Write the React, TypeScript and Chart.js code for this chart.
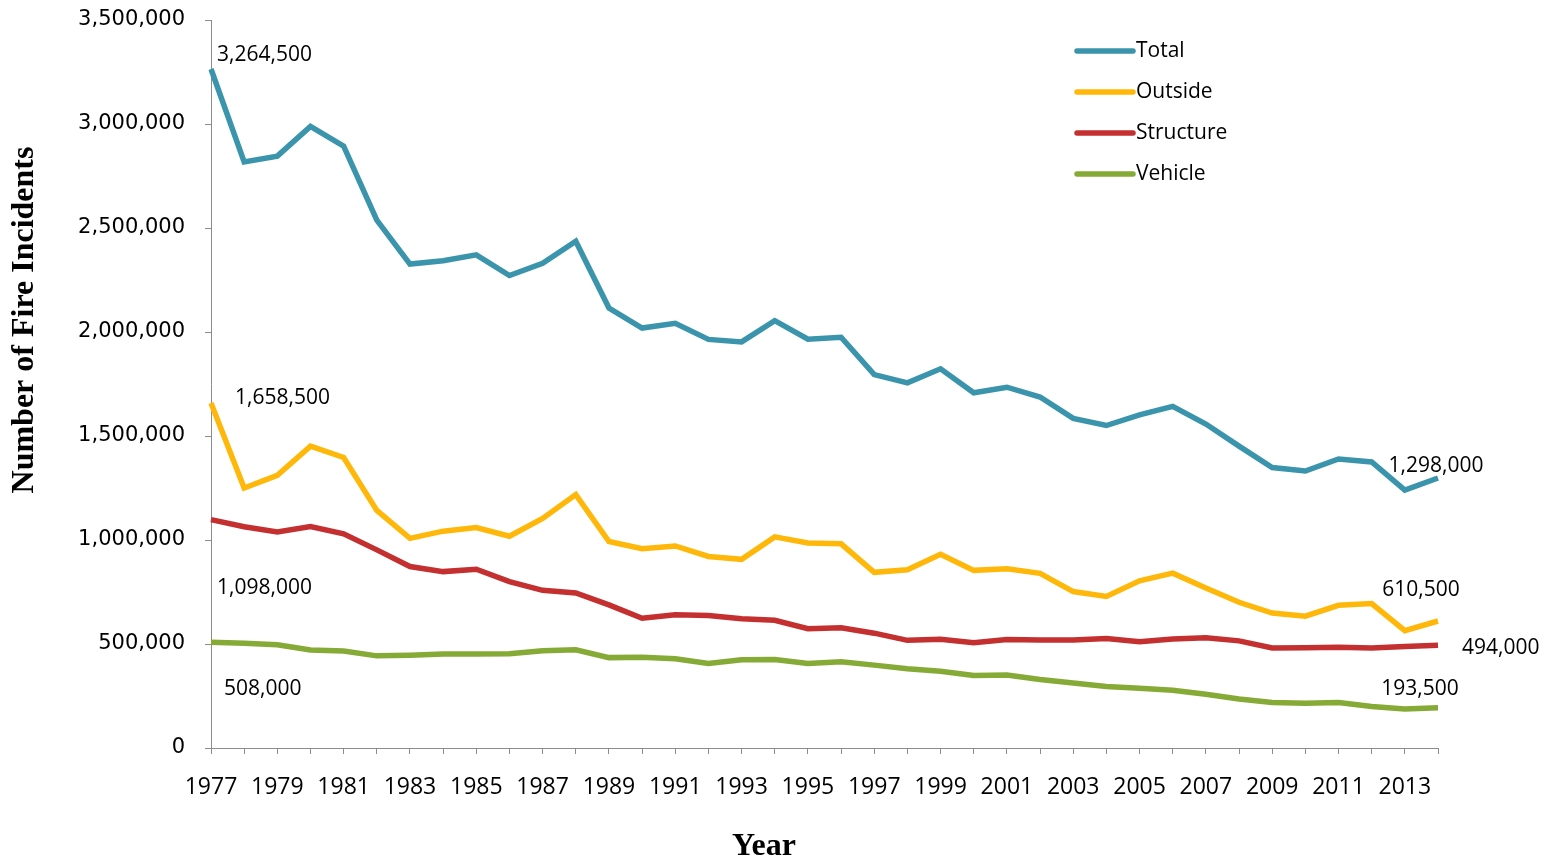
import React, { useEffect, useRef } from "react";
import { Chart, registerables } from "chart.js";

Chart.register(...registerables);

const years = [
  "1977", "1978", "1979", "1980", "1981", "1982", "1983", "1984", "1985", "1986",
  "1987", "1988", "1989", "1990", "1991", "1992", "1993", "1994", "1995", "1996",
  "1997", "1998", "1999", "2000", "2001", "2002", "2003", "2004", "2005", "2006",
  "2007", "2008", "2009", "2010", "2011", "2012", "2013", "2014",
];

const total = [
  3264500, 2817500, 2845500, 2988000, 2893500, 2538000, 2326500, 2343000, 2371000, 2271500,
  2330000, 2436500, 2115000, 2019000, 2041500, 1964500, 1952500, 2054500, 1965500, 1975000,
  1795000, 1755500, 1823000, 1708000, 1734500, 1687500, 1584500, 1550500, 1602000, 1642500,
  1557500, 1451500, 1348500, 1331500, 1389500, 1375000, 1240000, 1298000,
];

const outside = [
  1658500, 1250000, 1310500, 1451500, 1397000, 1142500, 1008000, 1042500, 1060000, 1018000,
  1104000, 1218500, 992500, 958500, 971500, 921000, 907000, 1015000, 985500, 981500,
  844500, 857000, 931500, 854000, 862000, 839500, 752000, 728500, 804000, 840500,
  769000, 700500, 649000, 634000, 686000, 694500, 564500, 610500,
];

const structure = [
  1098000, 1064000, 1038500, 1065000, 1030000, 952500, 872500, 848000, 859500, 800000,
  758000, 745500, 688000, 624000, 640500, 637500, 621500, 614000, 573500, 578500,
  552000, 517500, 523000, 505500, 521500, 519000, 519500, 526000, 511000, 524000,
  530500, 515000, 480500, 482000, 484500, 480500, 487500, 494000,
];

const vehicle = [
  508000, 503500, 496500, 471500, 466500, 443000, 446000, 452500, 451500, 453500,
  468000, 472500, 434500, 436500, 429500, 406000, 424000, 425500, 406500, 415000,
  398500, 381000, 368500, 348500, 351000, 329000, 313000, 296000, 287000, 278000,
  258000, 236000, 219000, 215500, 219000, 200000, 188000, 193500,
];

const seriesNames = ["Total", "Outside", "Structure", "Vehicle"];
const seriesColors = ["#3A94AB", "#FFB80A", "#C3302F", "#86AA36"];

const yTitle = "Number of Fire Incidents";
const xTitle = "Year";

const fmt = (v: number) => v.toLocaleString("en-US");

// label offsets per dataset: [first point, last point] => [dx, dy, align]
const labelOffsets: Array<Array<[number, number, CanvasTextAlign]>> = [
  [[6, -14, "left"], [-2, -12, "center"]],
  [[24, -5, "left"], [-17, -31, "center"]],
  [[6, 68, "left"], [24, 3, "left"]],
  [[13, 47, "left"], [-18, -19, "center"]],
];

const extrasPlugin = {
  id: "extras",
  afterDraw(chart: any) {
    const ctx = chart.ctx as CanvasRenderingContext2D;
    const ca = chart.chartArea;
    ctx.save();
    // data labels
    ctx.fillStyle = "#000";
    ctx.font = '21px "Open Sans"';
    ctx.textBaseline = "middle";
    chart.data.datasets.forEach((ds: any, i: number) => {
      const meta = chart.getDatasetMeta(i);
      const n = ds.data.length;
      [0, n - 1].forEach((idx, k) => {
        const pt = meta.data[idx];
        const [dx, dy, align] = labelOffsets[i][k];
        ctx.textAlign = align;
        ctx.fillText(fmt(ds.data[idx]), pt.x + dx, pt.y + dy);
      });
    });
    // legend
    const lx = 1077;
    let ly = 51;
    ctx.font = '21px "Open Sans"';
    ctx.textAlign = "left";
    chart.data.datasets.forEach((ds: any) => {
      ctx.strokeStyle = ds.borderColor;
      ctx.lineWidth = 5.5;
      ctx.lineCap = "round";
      ctx.beginPath();
      ctx.moveTo(lx, ly);
      ctx.lineTo(lx + 56, ly);
      ctx.stroke();
      ctx.fillStyle = "#000";
      ctx.fillText(ds.label, lx + 59, ly);
      ly += 41;
    });
    // axis titles
    ctx.font = 'bold 32px "Liberation Serif"';
    ctx.fillStyle = "#000";
    ctx.textAlign = "center";
    ctx.textBaseline = "middle";
    ctx.fillText(xTitle, 764, 847);
    ctx.translate(25, ca.top + 300);
    ctx.rotate(-Math.PI / 2);
    ctx.fillText(yTitle, 0, 0);
    ctx.restore();
  },
};

export default function App() {
  const ref = useRef<HTMLCanvasElement | null>(null);
  useEffect(() => {
    if (!ref.current) return;
    const data = [total, outside, structure, vehicle];
    const chart = new Chart(ref.current, {
      type: "line",
      data: {
        labels: years,
        datasets: data.map((d, i) => ({
          label: seriesNames[i],
          data: d,
          borderColor: seriesColors[i],
          backgroundColor: seriesColors[i],
          borderWidth: 5.5,
          pointRadius: 0,
          tension: 0,
          fill: false,
        })),
      },
      options: {
        animation: false,
        responsive: false,
        layout: { padding: { left: 0, top: 20, right: 113, bottom: 0 } },
        plugins: { legend: { display: false }, tooltip: { enabled: false } },
        scales: {
          x: {
            type: "category",
            offset: false,
            afterFit: (s: any) => {
              s.height = 116;
              s.paddingLeft = 0;
              s.paddingRight = 0;
            },
            grid: { display: true, drawOnChartArea: false, drawTicks: true, tickLength: 6, color: "#8C8C8C" },
            border: { display: true, color: "#8C8C8C", width: 1 },
            ticks: {
              autoSkip: false,
              maxRotation: 0,
              padding: 20,
              color: "#000",
              font: { family: "Open Sans", size: 23 },
              callback: (_v: any, i: number) => (i % 2 === 0 ? years[i] : ""),
            },
          },
          y: {
            min: 0,
            max: 3500000,
            afterFit: (s: any) => {
              s.width = 211;
              s.paddingTop = 0;
              s.paddingBottom = 0;
            },
            grid: { display: true, drawOnChartArea: false, drawTicks: true, tickLength: 6, color: "#8C8C8C" },
            border: { display: true, color: "#8C8C8C", width: 1 },
            ticks: {
              stepSize: 500000,
              padding: 20,
              color: "#000",
              font: { family: "DejaVu Sans", size: 21 },
              callback: (v: any) => fmt(Number(v)),
            },
          },
        },
      },
      plugins: [extrasPlugin],
    });
    return () => chart.destroy();
  }, []);
  return (
    <div style={{ position: "absolute", left: 0, top: 0, width: 1551, height: 864, background: "#fff" }}>
      <canvas ref={ref} width={1551} height={864} style={{ display: "block" }} />
    </div>
  );
}
